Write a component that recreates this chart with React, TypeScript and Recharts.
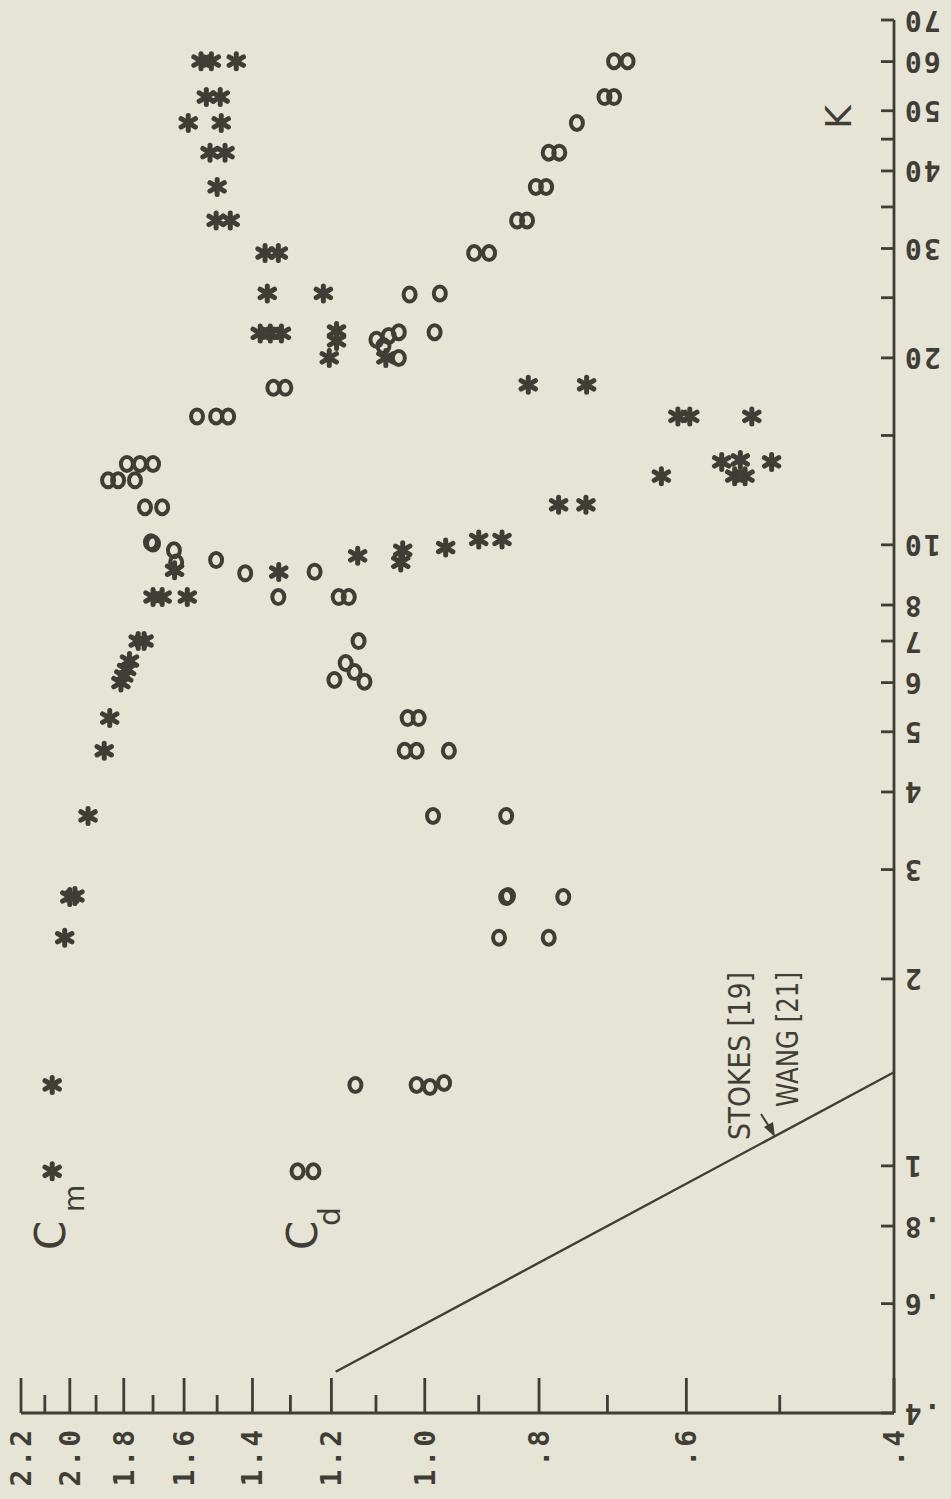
import React from "react";
import { ScatterChart, Scatter, XAxis, YAxis } from "recharts";

const INK = "#403d37";
const PAPER = "#e6e4d4";

// C axis (log) ticks – labelled ones and minor ones
const C_LABELS = [0.4, 0.6, 0.8, 1.0, 1.2, 1.4, 1.6, 1.8, 2.0, 2.2];
const C_TEXT = [".4", ".6", ".8", "1.0", "1.2", "1.4", "1.6", "1.8", "2.0", "2.2"];
const C_MINOR = [0.5, 0.7, 0.9, 1.1, 1.3, 1.5, 1.7, 1.9, 2.1];

// K axis (log) ticks
const K_LABELS = [0.4, 0.6, 0.8, 1, 2, 3, 4, 5, 6, 7, 8, 10, 20, 30, 40, 50, 60, 70];
const K_TEXT = [".4", ".6", ".8", "1", "2", "3", "4", "5", "6", "7", "8", "10", "20", "30", "40", "50", "60", "70"];
const K_MINOR = [15, 25, 35, 45];

// [K, C] pairs
const CM_POINTS: [number, number][] = [
  [0.98, 2.07], [1.35, 2.07], [2.33, 2.02], [2.71, 2.0], [2.72, 1.98],
  [3.66, 1.93], [4.66, 1.87], [5.26, 1.85], [6.0, 1.81], [6.15, 1.8],
  [6.3, 1.79], [6.5, 1.78], [7.0, 1.75], [7.0, 1.73], [8.24, 1.7],
  [8.24, 1.67], [8.24, 1.59], [9.1, 1.63], [9.04, 1.33], [9.6, 1.14],
  [9.8, 1.044], [9.37, 1.048], [9.9, 0.96], [10.2, 0.9], [10.2, 0.86],
  [11.6, 0.77], [11.6, 0.73], [12.9, 0.63], [13.6, 0.56], [13.7, 0.54],
  [12.9, 0.546], [12.9, 0.535], [13.6, 0.508], [16.1, 0.61], [16.1, 0.596],
  [16.1, 0.528], [18.1, 0.817], [18.1, 0.729], [20.0, 1.205], [20.0, 1.079],
  [21.3, 1.188], [22.1, 1.188], [21.9, 1.379], [21.9, 1.352], [21.9, 1.323],
  [25.4, 1.36], [25.4, 1.219], [29.5, 1.366], [29.5, 1.331], [33.3, 1.503],
  [33.3, 1.462], [37.7, 1.5], [42.8, 1.521], [42.8, 1.477], [47.8, 1.587],
  [47.8, 1.488], [52.6, 1.532], [52.6, 1.491], [60.1, 1.548], [60.1, 1.517],
  [60.1, 1.445],
];

const CD_POINTS: [number, number][] = [
  [0.98, 1.282], [0.98, 1.243], [1.35, 1.145], [1.35, 1.016], [1.34, 0.99],
  [1.36, 0.963], [2.33, 0.865], [2.33, 0.785], [2.71, 0.853], [2.72, 0.85],
  [2.71, 0.763], [3.66, 0.984], [3.66, 0.853], [4.66, 1.04], [4.66, 1.016],
  [4.66, 0.954], [5.26, 1.034], [5.26, 1.012], [6.45, 1.167], [6.06, 1.193],
  [6.24, 1.147], [6.02, 1.125], [7.0, 1.138], [8.24, 1.331], [8.24, 1.183],
  [8.24, 1.16], [10.1, 1.707], [10.05, 1.7], [9.8, 1.632], [9.37, 1.625],
  [9.45, 1.503], [9.0, 1.42], [9.05, 1.24], [11.5, 1.727], [11.5, 1.67],
  [12.7, 1.856], [12.7, 1.82], [12.7, 1.761], [13.5, 1.789], [13.5, 1.744],
  [13.5, 1.7], [16.1, 1.56], [16.1, 1.503], [16.1, 1.468], [17.9, 1.344],
  [17.9, 1.313], [21.4, 1.099], [21.7, 1.073], [22.0, 1.052], [20.9, 1.084],
  [22.0, 0.981], [20.0, 1.052], [25.3, 1.03], [25.4, 0.971], [29.5, 0.908],
  [29.5, 0.882], [33.3, 0.835], [33.3, 0.819], [37.7, 0.805], [37.7, 0.789],
  [42.8, 0.785], [42.8, 0.769], [47.8, 0.743], [52.6, 0.704], [52.6, 0.691],
  [60.1, 0.691], [60.1, 0.673],
];

// Stokes / Wang theory line, two end points [K, C]
const STOKES_LINE: [number, number][] = [[0.466, 1.19], [1.415, 0.4]];

const toRows = (pts: [number, number][]) => pts.map(([k, c]) => ({ k, c }));

const MONO = "'DejaVu Sans Mono', monospace";
const SANS = "'DejaVu Sans', sans-serif";

function Star({ cx, cy }: any) {
  return (
    <g stroke={INK} strokeWidth={5} strokeLinecap="round">
      <line x1={cx} y1={cy - 7.5} x2={cx} y2={cy + 7.5} />
      <line x1={cx - 7.2} y1={cy - 4.2} x2={cx + 7.2} y2={cy + 4.2} />
      <line x1={cx - 7.2} y1={cy + 4.2} x2={cx + 7.2} y2={cy - 4.2} />
      <circle cx={cx} cy={cy} r={3.5} fill={INK} stroke="none" />
    </g>
  );
}

function Ring({ cx, cy }: any) {
  return <ellipse cx={cx} cy={cy} rx={6} ry={7} fill="none" stroke={INK} strokeWidth={4} />;
}

function CTick({ x, y, payload }: any) {
  const i = C_LABELS.findIndex((v) => Math.abs(v - payload.value) < 1e-6);
  const len = i >= 0 ? 35 : 18;
  return (
    <g>
      <line x1={x} x2={x} y1={y} y2={y - len} stroke={INK} strokeWidth={2.8} />
      {i >= 0 && (
        <text
          transform={`translate(${x + 10},${y + 14}) rotate(-90)`}
          textAnchor="end"
          fontFamily={MONO}
          fontWeight="bold"
          fontSize={28}
          letterSpacing={3}
          fill={INK}
        >
          {C_TEXT[i]}
        </text>
      )}
    </g>
  );
}

function KTick({ x, y, payload }: any) {
  const i = K_LABELS.findIndex((v) => Math.abs(v - payload.value) < 1e-6);
  const tx = x + 9;
  return (
    <g>
      <line x1={x} x2={x - 13} y1={y} y2={y} stroke={INK} strokeWidth={2.8} />
      {i >= 0 && (
        <text
          x={tx}
          y={y}
          transform={`rotate(180, ${tx}, ${y})`}
          textAnchor="end"
          dominantBaseline="central"
          fontFamily={MONO}
          fontWeight="bold"
          fontSize={28}
          letterSpacing={2}
          fill={INK}
        >
          {K_TEXT[i]}
        </text>
      )}
    </g>
  );
}

function Annotations() {
  const rot = (x: number, y: number) => `translate(${x},${y}) rotate(-90)`;
  return (
    <svg
      width={951}
      height={1499}
      style={{ position: "absolute", left: 0, top: 0, pointerEvents: "none" }}
    >
      <g fill={INK} fontFamily={SANS}>
        <text transform={rot(65, 1250)} fontSize={42}>C</text>
        <text transform={rot(84, 1212)} fontSize={28}>m</text>
        <text transform={rot(317, 1250)} fontSize={42}>C</text>
        <text transform={rot(340, 1226)} fontSize={30}>d</text>
        <text transform={rot(750, 1140)} fontSize={31} textLength={168} lengthAdjust="spacingAndGlyphs">
          STOKES [19]
        </text>
        <text transform={rot(798, 1107)} fontSize={31} textLength={135} lengthAdjust="spacingAndGlyphs">
          WANG [21]
        </text>
        <text transform={rot(838, 117)} fontSize={36} textAnchor="middle" dominantBaseline="central">
          K
        </text>
      </g>
      <line x1={761} y1={1114} x2={770} y2={1128} stroke={INK} strokeWidth={2} />
      <polygon points="775,1137 764,1127 773,1122" fill={INK} />
    </svg>
  );
}

export default function App() {
  return (
    <div style={{ position: "absolute", left: 0, top: 0, width: 951, height: 1499, background: PAPER }}>
      <ScatterChart width={951} height={1499} margin={{ top: 20, right: 0, bottom: 0, left: 21 }}>
        <XAxis
          type="number"
          dataKey="c"
          scale="log"
          domain={[0.4, 2.2]}
          reversed
          allowDataOverflow
          ticks={[...C_LABELS, ...C_MINOR]}
          interval={0}
          height={86}
          tickSize={0}
          tickMargin={0}
          axisLine={{ stroke: INK, strokeWidth: 2.8 }}
          tickLine={false}
          tick={(p: any) => <CTick {...p} />}
        />
        <YAxis
          type="number"
          dataKey="k"
          scale="log"
          domain={[0.4, 70]}
          orientation="right"
          allowDataOverflow
          ticks={[...K_LABELS, ...K_MINOR]}
          interval={0}
          width={57}
          tickSize={0}
          tickMargin={0}
          axisLine={{ stroke: INK, strokeWidth: 2.8 }}
          tickLine={false}
          tick={(p: any) => <KTick {...p} />}
        />
        <Scatter
          data={toRows(STOKES_LINE)}
          line={{ stroke: INK, strokeWidth: 2.4 }}
          shape={() => <g />}
          isAnimationActive={false}
        />
        <Scatter data={toRows(CM_POINTS)} shape={(p: any) => <Star {...p} />} isAnimationActive={false} />
        <Scatter data={toRows(CD_POINTS)} shape={(p: any) => <Ring {...p} />} isAnimationActive={false} />
      </ScatterChart>
      <Annotations />
    </div>
  );
}
